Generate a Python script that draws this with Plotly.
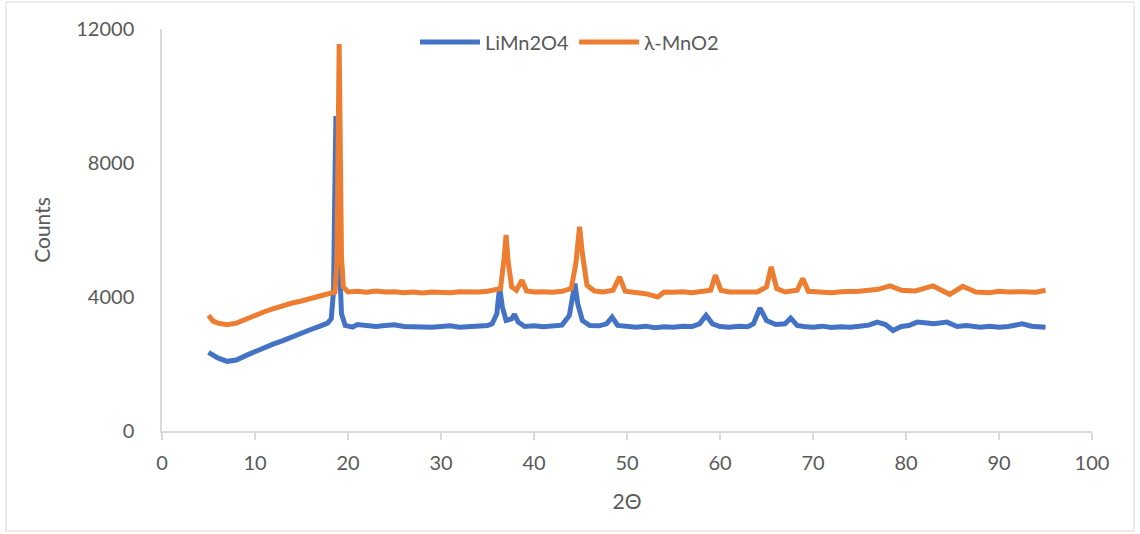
import plotly.graph_objects as go

# 2-theta positions (degrees) and counts for each sample
limn2o4_2theta = [5, 5.5, 6, 7, 8, 9, 10, 11, 12, 13, 14, 15, 16, 17, 17.8, 18.2, 18.45, 18.6, 18.7, 18.8,
                  18.95, 19.1, 19.3, 19.7, 20.5, 21, 22, 23, 24, 25, 26, 27, 28, 29, 30, 31, 32, 33, 34,
                  35, 35.5, 36.0, 36.3, 36.6, 37.0, 37.6, 37.9, 38.3, 39, 40, 41, 42, 43, 43.8, 44.2,
                  44.4, 44.7, 45.2, 46, 47, 47.8, 48.4, 49, 50, 51, 52, 53, 54, 55, 56, 57, 57.8, 58.5,
                  59.2, 60, 61, 62, 63, 63.6, 64.3, 65.0, 66, 67.0, 67.6, 68.3, 69, 70, 71, 72, 73,
                  74, 75, 76, 76.9, 77.8, 78.6, 79.5, 80.3, 81.2, 82, 83, 84.4, 85.5, 86.5, 88, 89,
                  90, 91, 92.5, 93.5, 95]
limn2o4_counts = [2350, 2250, 2180, 2080, 2120, 2250, 2380, 2480, 2600, 2700, 2820, 2930, 3030, 3130, 3220,
                  3350, 4200, 7500, 9400, 7000, 4600, 4900, 3500, 3150, 3100, 3180, 3150, 3120, 3150,
                  3170, 3120, 3110, 3130, 3100, 3120, 3140, 3100, 3120, 3130, 3150, 3200, 3500, 4300,
                  3700, 3300, 3350, 3480, 3250, 3120, 3140, 3110, 3130, 3160, 3450, 4100, 4400, 3800,
                  3300, 3150, 3140, 3200, 3400, 3150, 3120, 3100, 3130, 3080, 3110, 3100, 3130, 3120,
                  3200, 3450, 3200, 3120, 3100, 3130, 3110, 3200, 3670, 3300, 3180, 3200, 3370, 3150,
                  3120, 3100, 3130, 3090, 3110, 3100, 3130, 3160, 3250, 3180, 3000, 3120, 3150, 3250,
                  3230, 3200, 3250, 3120, 3150, 3100, 3130, 3100, 3120, 3200, 3130, 3100]

lambda_mno2_2theta = [5, 5.5, 6, 7, 8, 9, 10, 11, 12, 13, 14, 15, 16, 17, 18, 18.6, 18.8, 18.95, 19.05,
                      19.15, 19.3, 19.5, 20, 21, 22, 23, 24, 25, 26, 27, 28, 29, 30, 31, 32, 33, 34, 35,
                      36.4, 36.8, 37.0, 37.2, 37.6, 38.1, 38.7, 39.2, 40, 41, 42, 43, 44.0, 44.5, 44.9,
                      45.2, 45.7, 46.5, 47.5, 48.5, 49.2, 49.8, 51, 52, 53.3, 54, 55, 56, 57, 58, 59,
                      59.5, 60.1, 61, 62, 63, 64, 65, 65.5, 66.1, 67, 68.3, 68.9, 69.5, 71, 72, 73, 74,
                      75, 76, 77, 78.3, 79.5, 81, 82.9, 84.7, 86.1, 87.5, 89, 90, 91, 92.5, 94, 95]
lambda_mno2_counts = [3450, 3280, 3220, 3170, 3220, 3340, 3460, 3560, 3650, 3740, 3820, 3880, 3950, 4010,
                      4080, 4150, 5000, 9500, 11550, 9000, 5200, 4300, 4150, 4170, 4140, 4180, 4150, 4160,
                      4130, 4150, 4120, 4150, 4140, 4130, 4160, 4140, 4150, 4170, 4250, 5200, 5850, 5100,
                      4300, 4200, 4500, 4180, 4150, 4160, 4140, 4170, 4250, 5000, 6100, 5300, 4350, 4180,
                      4150, 4200, 4600, 4170, 4150, 4100, 4000, 4150, 4140, 4160, 4130, 4150, 4200, 4650,
                      4200, 4150, 4140, 4160, 4150, 4300, 4900, 4250, 4150, 4200, 4550, 4170, 4150, 4130,
                      4160, 4150, 4170, 4200, 4230, 4330, 4200, 4180, 4330, 4080, 4320, 4150, 4130, 4170,
                      4150, 4160, 4140, 4200]

x_ticks = [0, 10, 20, 30, 40, 50, 60, 70, 80, 90, 100]
y_ticks = [0, 4000, 8000, 12000]
y_tick_labels = ["0", "4000", "8000", "12000"]

text_color = "#595959"
axis_color = "#d9d9d9"
font_family = "Lato, 'Open Sans', sans-serif"

fig = go.Figure()
fig.add_trace(go.Scatter(x=limn2o4_2theta, y=limn2o4_counts, mode="lines", name="LiMn2O4",
                         line=dict(color="#4472C4", width=5)))
fig.add_trace(go.Scatter(x=lambda_mno2_2theta, y=lambda_mno2_counts, mode="lines", name="λ-MnO2",
                         line=dict(color="#ED7D31", width=5)))

fig.update_layout(
    width=1140, height=534,
    margin=dict(l=162, r=48, t=29, b=103),
    paper_bgcolor="white", plot_bgcolor="white",
    font=dict(family=font_family, size=20, color=text_color),
    showlegend=True,
    legend=dict(orientation="h", x=0.272, xanchor="left", y=(431 - 42) / 402, yanchor="middle",
                bgcolor="rgba(0,0,0,0)", font=dict(size=20, color=text_color),
                itemwidth=60, tracegroupgap=0),
    xaxis=dict(range=[0, 100], tickvals=x_ticks, showgrid=False, zeroline=False,
               showline=True, linecolor=axis_color, linewidth=1.5,
               ticks="outside", ticklen=7, tickcolor=axis_color, tickwidth=1.5,
               ticklabelstandoff=6,
               title=dict(text="2Θ", font=dict(size=21, color=text_color), standoff=22)),
    yaxis=dict(range=[0, 12000], tickvals=y_ticks, ticktext=y_tick_labels, showgrid=False,
               zeroline=False, showline=True, linecolor=axis_color, linewidth=1.5, ticks="",
               ticklabelstandoff=22,
               title=dict(text="Counts", font=dict(size=21, color=text_color), standoff=20)),
    shapes=[dict(type="rect", xref="paper", yref="paper",
                 x0=(6 - 162) / 930, x1=(1134 - 162) / 930,
                 y0=(431 - 531) / 402, y1=(431 - 2) / 402,
                 line=dict(color="#d9d9d9", width=1), layer="below")],
)

fig.write_html("out.html")
